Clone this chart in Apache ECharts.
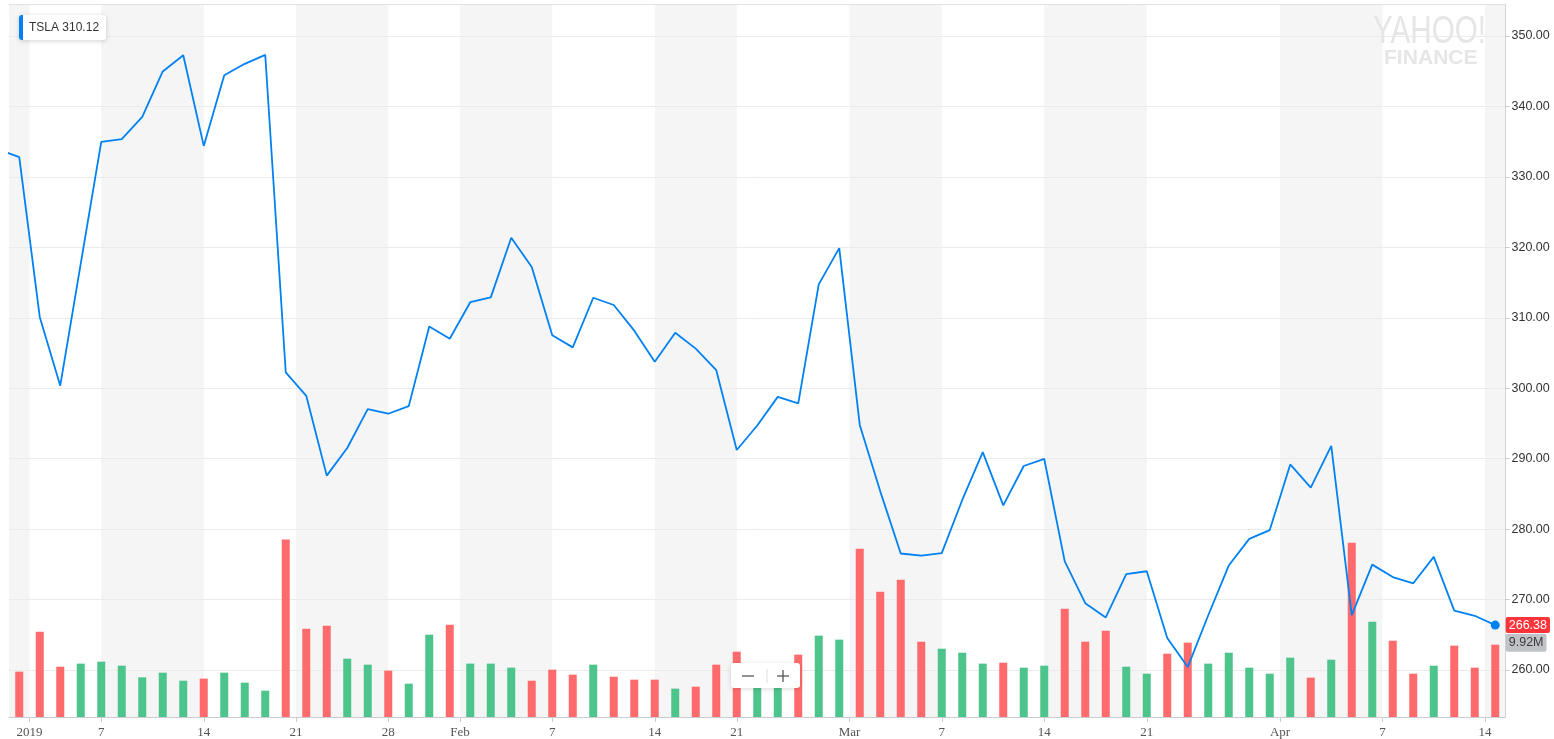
<!DOCTYPE html>
<html>
<head>
<meta charset="utf-8">
<script src="https://cdn.jsdelivr.net/npm/echarts@6/dist/echarts.min.js"></script>
<style>
html,body{margin:0;padding:0;background:#fff;}
#chart{width:1554px;height:739px;}
</style>
</head>
<body>
<div id="chart"></div>
<script>
// ---------------- DATA ----------------
const ticker = 'TSLA';
const legendValue = 310.12;
// close of the session before the first visible day (Dec 28, 2018)
const prevClose = 333.87;
const dates = [
  '2018-12-31','2019-01-02','2019-01-03','2019-01-04','2019-01-07','2019-01-08','2019-01-09','2019-01-10','2019-01-11',
  '2019-01-14','2019-01-15','2019-01-16','2019-01-17','2019-01-18','2019-01-22','2019-01-23','2019-01-24','2019-01-25',
  '2019-01-28','2019-01-29','2019-01-30','2019-01-31','2019-02-01','2019-02-04','2019-02-05','2019-02-06','2019-02-07',
  '2019-02-08','2019-02-11','2019-02-12','2019-02-13','2019-02-14','2019-02-15','2019-02-19','2019-02-20','2019-02-21',
  '2019-02-22','2019-02-25','2019-02-26','2019-02-27','2019-02-28','2019-03-01','2019-03-04','2019-03-05','2019-03-06',
  '2019-03-07','2019-03-08','2019-03-11','2019-03-12','2019-03-13','2019-03-14','2019-03-15','2019-03-18','2019-03-19',
  '2019-03-20','2019-03-21','2019-03-22','2019-03-25','2019-03-26','2019-03-27','2019-03-28','2019-03-29','2019-04-01',
  '2019-04-02','2019-04-03','2019-04-04','2019-04-05','2019-04-08','2019-04-09','2019-04-10','2019-04-11','2019-04-12',
  '2019-04-15'
];
const closes = [
  332.80, 310.12, 300.36, 317.69, 334.96, 335.35, 338.53, 344.97, 347.26,
  334.40, 344.43, 346.05, 347.31, 302.26, 298.92, 287.59, 291.51, 297.04,
  296.38, 297.46, 308.77, 307.02, 312.21, 312.89, 321.35, 317.22, 307.51,
  305.80, 312.84, 311.81, 308.17, 303.77, 307.88, 305.62, 302.56, 291.23,
  294.71, 298.77, 297.86, 314.74, 319.88, 294.79, 285.36, 276.54, 276.24,
  276.59, 284.14, 290.92, 283.36, 288.96, 289.96, 275.43, 269.49, 267.47,
  273.60, 274.02, 264.53, 260.42, 267.77, 274.83, 278.62, 279.86, 289.18,
  285.88, 291.81, 267.78, 274.96, 273.20, 272.31, 276.06, 268.42, 267.70,
  266.38
];
// volume, millions of shares
const volumes = [
  6.22, 11.71, 6.90, 7.32, 7.59, 7.04, 5.44, 6.08, 4.98,
  5.26, 6.08, 4.71, 3.61, 24.33, 12.12, 12.53, 8.00, 7.18,
  6.36, 4.57, 11.29, 12.67, 7.32, 7.32, 6.77, 4.98, 6.49,
  5.81, 7.18, 5.53, 5.12, 5.12, 3.89, 4.16, 7.18, 8.96,
  6.00, 6.30, 8.55, 11.16, 10.61, 23.09, 17.19, 18.84, 10.33,
  9.37, 8.82, 7.32, 7.45, 6.77, 7.04, 14.86, 10.33, 11.84,
  6.90, 5.94, 8.69, 10.20, 7.32, 8.82, 6.77, 5.94, 8.14,
  5.40, 7.86, 23.91, 13.08, 10.47, 5.94, 7.04, 9.79, 6.77,
  9.92
];
// x-axis ticks, in trading-day index units (x.5 = between two sessions)
const tickLabels = ['2019','7','14','21','28','Feb','7','14','21','Mar','7','14','21','Apr','7','14'];
const tickPositions = [0.5, 4, 9, 13.5, 18, 21.5, 26, 31, 35, 40.5, 45, 50, 55, 61.5, 66.5, 71.5];
const priceTicks = [260, 270, 280, 290, 300, 310, 320, 330, 340, 350];

// ---------------- BUILD ----------------
const UP = '#4cc48c', DOWN = '#ff6b6d', LINE = '#0081f2';
const n = dates.length;
const xMin = -0.5, xMax = n - 0.5;
const lastIdx = n - 1;

const lineData = [[-1, prevClose]].concat(closes.map((c, i) => [i, c]));
const volData = volumes.map((v, i) => {
  const ref = i === 0 ? prevClose : closes[i - 1];
  return { value: [i, v], itemStyle: { color: closes[i] >= ref ? UP : DOWN } };
});
const bounds = [xMin].concat(tickPositions, [xMax]);
const bands = [];
for (let k = 0; k < bounds.length - 1; k += 2) bands.push([bounds[k], bounds[k + 1]]);

const sansFont = '"Liberation Sans", Arial, Helvetica, sans-serif';
const serifFont = '"Liberation Serif", "Times New Roman", serif';
const TOP = 100;

const chart = echarts.init(document.getElementById('chart'), null, { renderer: 'canvas' });
chart.setOption({
  animation: false,
  backgroundColor: '#ffffff',
  grid: { left: 9, top: 4, right: 48.5, bottom: 21.7, containLabel: false },
  xAxis: [{
    type: 'value', min: xMin, max: xMax, position: 'bottom', z: 1,
    axisLine: { show: true, onZero: false, lineStyle: { color: '#c9cdd3', width: 1 } },
    axisTick: { show: true, customValues: tickPositions, length: 5, lineStyle: { color: '#c9cdd3' } },
    axisLabel: {
      show: true, customValues: tickPositions, margin: 9,
      fontFamily: serifFont, fontSize: 13, color: '#555',
      formatter: function (v) {
        for (let k = 0; k < tickPositions.length; k++) if (Math.abs(tickPositions[k] - v) < 1e-6) return tickLabels[k];
        return '';
      }
    },
    splitLine: { show: false }
  }, {
    type: 'value', min: xMin, max: xMax, position: 'top', z: 1,
    axisLine: { show: true, onZero: false, lineStyle: { color: '#e2e2e2' } },
    axisTick: { show: false }, axisLabel: { show: false }, splitLine: { show: false }
  }],
  yAxis: [{
    type: 'value', position: 'right', min: 253.33, max: 354.54, z: 1,
    axisLine: { show: true, onZero: false, lineStyle: { color: '#d3d3d3' } },
    axisTick: { show: true, customValues: priceTicks, length: 4, lineStyle: { color: '#c9c9c9' } },
    axisLabel: {
      show: true, customValues: priceTicks, margin: 6,
      fontFamily: sansFont, fontSize: 12.5, color: '#333',
      formatter: v => v.toFixed(2)
    },
    splitLine: { show: true, lineStyle: { color: '#ebebeb', width: 1 } }
  }, {
    type: 'value', min: 0, max: 97.8, show: false,
    axisLine: { show: false, onZero: false }
  }],
  series: [{
    type: 'custom', name: 'bands', xAxisIndex: 0, yAxisIndex: 1, z: 0, silent: true,
    data: bands,
    renderItem: function (params, api) {
      const cs = params.coordSys;
      const x0 = api.coord([api.value(0), 0])[0];
      const x1 = api.coord([api.value(1), 0])[0];
      return { type: 'rect', shape: { x: x0, y: cs.y, width: x1 - x0, height: cs.height }, style: { fill: '#f5f5f5' } };
    }
  }, {
    type: 'bar', name: 'volume', xAxisIndex: 0, yAxisIndex: 1, z: 2,
    barWidth: 8, data: volData, silent: true,
    markPoint: {
      symbol: 'circle', symbolSize: 1, silent: true,
      itemStyle: { color: 'rgba(0,0,0,0)' },
      data: [{ coord: [lastIdx, volumes[lastIdx]], value: volumes[lastIdx] }],
      label: {
        show: true, position: 'right', distance: 10, offset: [0, -2],
        formatter: p => p.value.toFixed(2) + 'M',
        backgroundColor: '#bfc2c7', color: '#3a3a3a', padding: [3, 3, 2, 3], borderRadius: 2,
        fontFamily: sansFont, fontSize: 12.5
      }
    }
  }, {
    type: 'line', name: ticker, xAxisIndex: 0, yAxisIndex: 0, z: 3,
    data: lineData, showSymbol: false, symbol: 'none', clip: true, silent: true,
    lineStyle: { color: LINE, width: 1.8 },
    markPoint: {
      symbol: 'circle', symbolSize: 9, silent: true,
      itemStyle: { color: LINE },
      data: [{ coord: [lastIdx, closes[lastIdx]], value: closes[lastIdx] }],
      label: {
        show: true, position: 'right', distance: 6,
        formatter: p => p.value.toFixed(2),
        backgroundColor: '#ff333a', color: '#fff', padding: [2, 3, 1, 3], borderRadius: 2,
        fontFamily: sansFont, fontSize: 12.5
      }
    }
  }],
  graphic: [
    // Yahoo Finance watermark
    { type: 'text', left: 1373, top: 13, z: 50, silent: true,
      style: { text: 'YAHOO!', font: 'normal 39px ' + sansFont, fill: '#e6e6e6' }, scaleX: 0.76 },
    { type: 'text', left: 1384, top: 49, z: 50, silent: true,
      style: { text: 'FINANCE', font: 'bold 19.5px ' + sansFont, fill: '#e6e6e6' }, scaleX: 1.08 },
    // legend badge
    { type: 'group', left: 19, top: 15, z: TOP, children: [
      { type: 'rect', z: TOP, shape: { x: 0, y: 0, width: 87, height: 25, r: 3 },
        style: { fill: '#fff', shadowBlur: 5, shadowColor: 'rgba(0,0,0,0.18)', shadowOffsetY: 1 } },
      { type: 'rect', z: TOP + 1, shape: { x: 0, y: 0, width: 4, height: 25, r: [3, 0, 0, 3] }, style: { fill: LINE } },
      { type: 'text', z: TOP + 1, x: 10, y: 12.5,
        style: { text: ticker + ' ' + legendValue.toFixed(2), font: '12px ' + sansFont, fill: '#333', verticalAlign: 'middle' } }
    ]},
    // zoom control
    { type: 'group', left: 731, top: 663, z: TOP, children: [
      { type: 'rect', z: TOP, shape: { x: 0, y: 0, width: 69, height: 25, r: 3 },
        style: { fill: '#fff', shadowBlur: 5, shadowColor: 'rgba(0,0,0,0.15)', shadowOffsetY: 1 } },
      { type: 'line', z: TOP + 1, shape: { x1: 11, y1: 13, x2: 23, y2: 13 }, style: { stroke: '#555', lineWidth: 1.3 } },
      { type: 'line', z: TOP + 1, shape: { x1: 36, y1: 6, x2: 36, y2: 20 }, style: { stroke: '#ddd', lineWidth: 1 } },
      { type: 'line', z: TOP + 1, shape: { x1: 46, y1: 13, x2: 58, y2: 13 }, style: { stroke: '#555', lineWidth: 1.3 } },
      { type: 'line', z: TOP + 1, shape: { x1: 52, y1: 7, x2: 52, y2: 19 }, style: { stroke: '#555', lineWidth: 1.3 } }
    ]}
  ]
});
</script>
</body>
</html>
